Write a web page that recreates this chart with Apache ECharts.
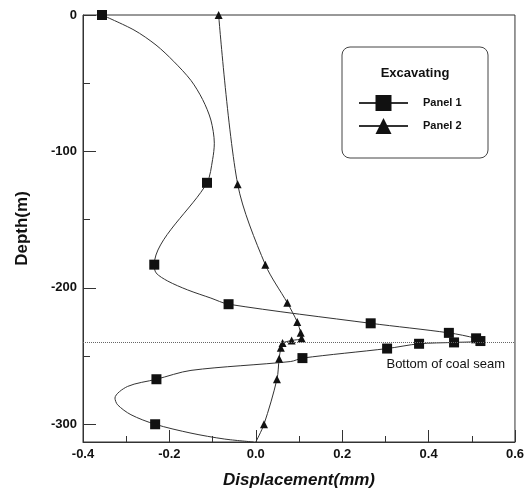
<!DOCTYPE html>
<html><head><meta charset="utf-8">
<script src="https://cdn.jsdelivr.net/npm/echarts@6/dist/echarts.min.js"></script>
<style>html,body{margin:0;padding:0;background:#fff}#c{width:527px;height:498px}</style>
</head><body><div id="c"></div>
<script>
// Tick values
const xTicks = [-0.4, -0.2, 0.0, 0.2, 0.4, 0.6];
const yTicks = [0, -100, -200, -300];
const yMinorTicks = [-50, -150, -250];
const seamDepth = -240;
const seamLabel = 'Bottom of coal seam';

// Panel 1 (squares); marked = 1 -> data point with marker, 0 -> point
const p1Disp  = [-0.356,-0.282,-0.231,-0.190,-0.150,-0.123,-0.104,-0.096,-0.100,-0.113,-0.235,-0.231,-0.204,-0.158,-0.104,-0.063,0.266,0.447,0.510,0.520,0.459,0.378,0.304,0.108,0.081,-0.150,-0.230,-0.297,-0.326,-0.320,-0.289,-0.233,-0.150,-0.073,-0.005];
const p1Depth = [0,-11,-22,-34,-48,-62,-77,-94,-106,-123,-183,-189,-195,-201.5,-207.5,-212,-226,-233,-237,-239,-240,-241,-244.5,-251.5,-254,-260.5,-267,-272.3,-280.8,-285.7,-293,-300,-306.5,-310.8,-313];
const p1Marked = [1,0,0,0,0,0,0,0,0,1,1,0,0,0,0,1,1,1,1,1,1,1,1,1,0,0,1,0,0,0,0,1,0,0,0];

// Panel 2 (triangles)
const p2Disp  = [-0.086,-0.042,0.022,0.073,0.096,0.104,0.106,0.083,0.062,0.058,0.054,0.049,0.019,0.000];
const p2Depth = [0,-124,-183,-211,-225,-233,-237,-238.6,-240.5,-244,-252,-267,-300,-313];
const p2Marked = [1,1,1,1,1,1,1,1,1,1,1,1,1,0];

const legendTitle = 'Excavating';
const seriesNames = ['Panel 1', 'Panel 2'];

function build(xs, ys, marks, sym) {
  return xs.map((x, i) => ({ value: [x, ys[i]], symbol: marks[i] ? sym : 'none' }));
}

const FONT = '"Liberation Sans", Arial, Helvetica, sans-serif';
const chart = echarts.init(document.getElementById('c'), null, { renderer: 'canvas' });
chart.setOption({
  animation: false,
  backgroundColor: '#fff',
  textStyle: { fontFamily: FONT },
  grid: { left: 83, right: 12, top: 15, bottom: 56, show: true, borderColor: '#333', borderWidth: 1, backgroundColor: 'transparent' },
  xAxis: {
    type: 'value', min: xTicks[0], max: xTicks[xTicks.length - 1], interval: 0.2, position: 'bottom',
    name: 'Displacement(mm)', nameLocation: 'middle', nameGap: 30,
    nameTextStyle: { fontFamily: FONT, fontSize: 17, fontWeight: 'bold', fontStyle: 'italic', color: '#111' },
    axisLine: { onZero: false, lineStyle: { color: '#333', width: 1 } },
    axisTick: { inside: true, length: 12, lineStyle: { color: '#333' } },
    minorTick: { show: true, splitNumber: 2, length: 6, lineStyle: { color: '#333' } },
    axisLabel: { formatter: v => v.toFixed(1), fontFamily: FONT, fontSize: 13, fontWeight: 'bold', color: '#111', margin: 6 },
    splitLine: { show: false }
  },
  yAxis: [{
    type: 'value', min: -313, max: 0, position: 'left',
    name: 'Depth(m)', nameLocation: 'middle', nameGap: 52, nameRotate: 90,
    nameTextStyle: { fontFamily: FONT, fontSize: 17, fontWeight: 'bold', color: '#111' },
    axisLine: { show: true, onZero: false, lineStyle: { color: '#333', width: 1 } },
    axisTick: { show: true, inside: true, length: 13, customValues: yTicks, lineStyle: { color: '#333' } },
    axisLabel: { customValues: yTicks, fontFamily: FONT, fontSize: 13, fontWeight: 'bold', color: '#111', margin: 6 },
    splitLine: { show: false }
  }, {
    type: 'value', min: -313, max: 0, position: 'left', offset: 0,
    axisLine: { show: false, onZero: false },
    axisTick: { show: true, inside: true, length: 7, customValues: yMinorTicks, lineStyle: { color: '#333' } },
    axisLabel: { show: false },
    splitLine: { show: false }
  }],
  legend: {
    data: seriesNames, orient: 'vertical', left: 358, top: 95, padding: 0,
    itemWidth: 49, itemHeight: 20, itemGap: 7,
    textStyle: { fontFamily: FONT, fontSize: 11, fontWeight: 'bold', color: '#111', padding: [0, 0, 0, 10] }
  },
  graphic: [
    { type: 'rect', shape: { x: 342, y: 47, width: 146, height: 111, r: 8 }, style: { fill: 'none', stroke: '#444', lineWidth: 1 }, z: 10 },
    { type: 'text', x: 415, y: 73, style: { text: legendTitle, fontFamily: FONT, fontSize: 13, fontWeight: 'bold', fill: '#111', align: 'center', verticalAlign: 'middle' }, z: 10 }
  ],
  series: [{
    name: seriesNames[0], type: 'line', smooth: 0.3, symbol: 'rect', symbolSize: 10, showSymbol: true,
    itemStyle: { color: '#111' }, lineStyle: { color: '#333', width: 1 },
    data: build(p1Disp, p1Depth, p1Marked, 'rect'),
    markLine: {
      silent: true, symbol: 'none', animation: false,
      lineStyle: { type: 'dotted', color: '#666', width: 1 },
      label: { show: true, formatter: seamLabel, position: 'insideEndBottom', distance: [10, 16], fontFamily: FONT, fontSize: 13, color: '#111' },
      data: [{ yAxis: seamDepth }]
    }
  }, {
    name: seriesNames[1], type: 'line', smooth: 0.3, symbol: 'triangle', symbolSize: 8, showSymbol: true,
    itemStyle: { color: '#111' }, lineStyle: { color: '#333', width: 1 },
    data: build(p2Disp, p2Depth, p2Marked, 'triangle')
  }]
});
</script></body></html>
